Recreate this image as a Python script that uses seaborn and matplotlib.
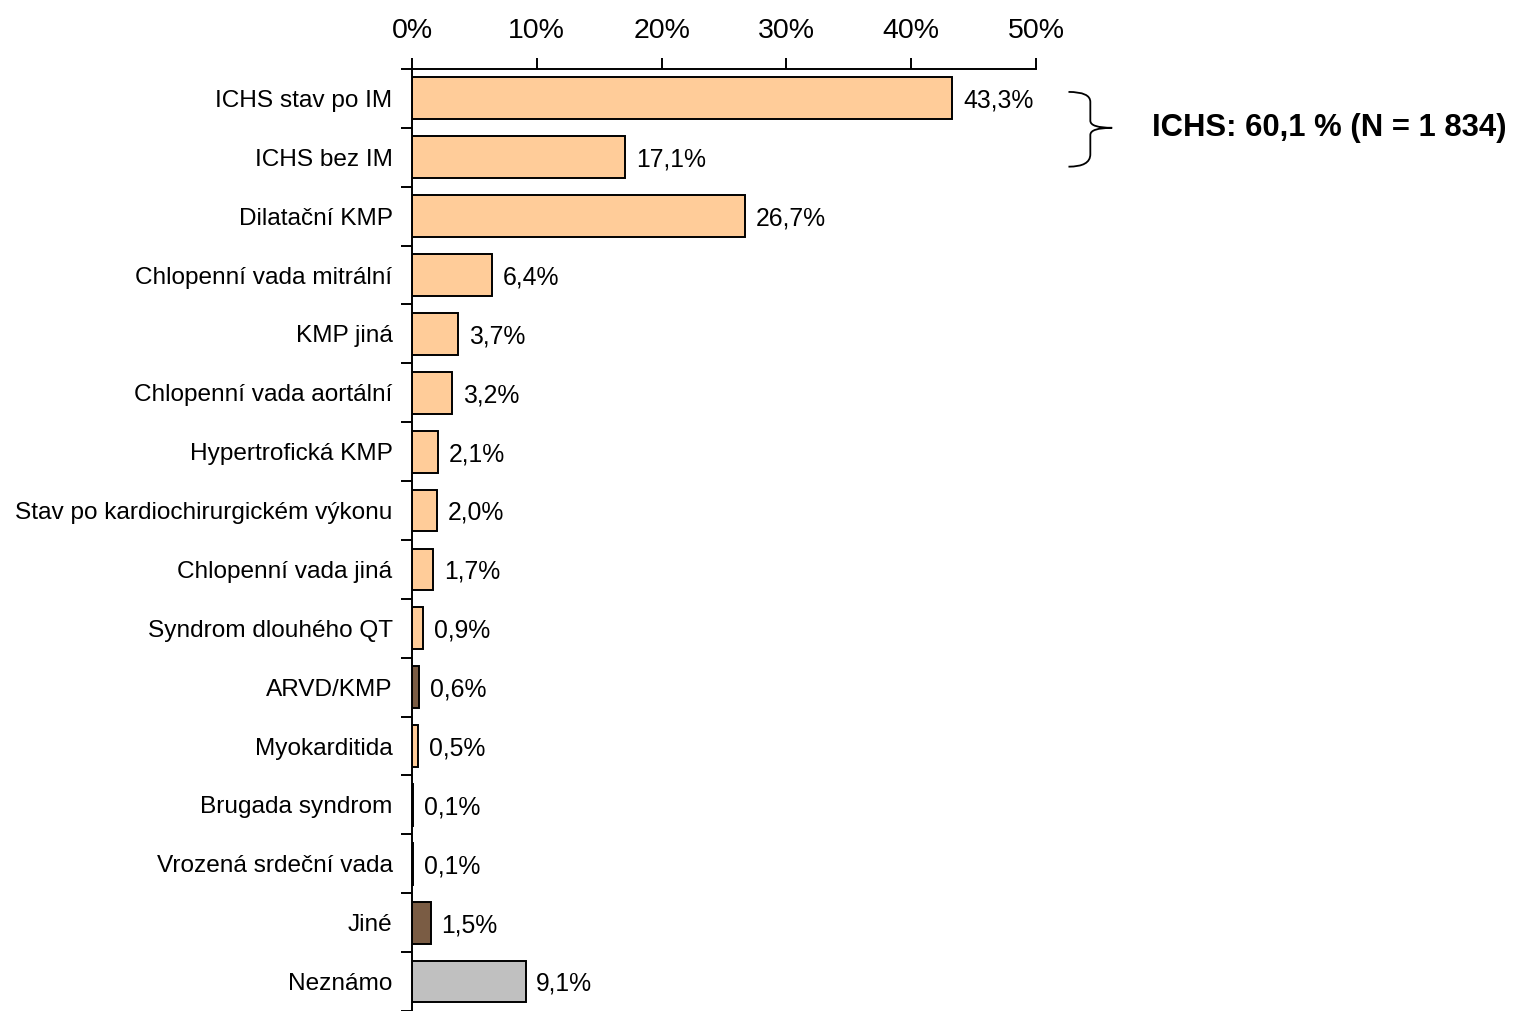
import matplotlib
matplotlib.use("Agg")
import matplotlib.pyplot as plt
import matplotlib.patches as mpatches
from matplotlib.path import Path
import seaborn as sns
import pandas as pd

categories = [
    "ICHS stav po IM", "ICHS bez IM", "Dilatační KMP", "Chlopenní vada mitrální",
    "KMP jiná", "Chlopenní vada aortální", "Hypertrofická KMP",
    "Stav po kardiochirurgickém výkonu", "Chlopenní vada jiná", "Syndrom dlouhého QT",
    "ARVD/KMP", "Myokarditida", "Brugada syndrom", "Vrozená srdeční vada",
    "Jiné", "Neznámo",
]
values = [43.3, 17.1, 26.7, 6.4, 3.7, 3.2, 2.1, 2.0, 1.7, 0.9, 0.6, 0.5, 0.1, 0.1, 1.5, 9.1]
value_labels = ["43,3%", "17,1%", "26,7%", "6,4%", "3,7%", "3,2%", "2,1%", "2,0%",
                "1,7%", "0,9%", "0,6%", "0,5%", "0,1%", "0,1%", "1,5%", "9,1%"]
x_ticks = [0, 10, 20, 30, 40, 50]
group_note = "ICHS: 60,1 % (N = 1 834)"

PEACH = "#FFCC99"
BROWN = "#7A5C44"
GREY = "#C0C0C0"
colors = [PEACH] * 10 + [BROWN, PEACH, PEACH, PEACH, BROWN, GREY]

df = pd.DataFrame({"category": categories, "value": values})

sns.set_style("white", rc={"text.color": "black", "xtick.color": "black",
                           "ytick.color": "black", "axes.labelcolor": "black"})
plt.rcParams['font.family'] = ['Liberation Sans', 'DejaVu Sans']

fig = plt.figure(figsize=(15.18, 10.11), dpi=100)
ax = fig.add_axes([0.2714, 0.0, 0.4111, 0.9318])

sns.barplot(data=df, x="value", y="category", hue="category", palette=colors,
            legend=False, orient="h", width=0.71, edgecolor="black", linewidth=1.4,
            saturation=1, ax=ax)

# value labels to the right of each bar
for i, (v, lab) in enumerate(zip(values, value_labels)):
    ax.text(v + 0.85, i + 0.04, lab, va="center", ha="left", fontsize=17.8, color="black")

ax.set_xlim(0, 50)
ax.set_ylim(15.5, -0.5)
ax.set_xticks(x_ticks)
ax.set_xticklabels([f"{t}%" for t in x_ticks], fontsize=20.5)
ax.xaxis.tick_top()
ax.set_xlabel("")
ax.set_ylabel("")

ax.tick_params(axis="x", which="major", direction="out", length=8, width=1.4,
               pad=10, colors="black", top=True, bottom=False)
ax.tick_params(axis="y", which="major", length=0, pad=14, labelsize=17.6,
               labelcolor="black")
ax.set_yticks([i - 0.5 for i in range(len(categories) + 1)], minor=True)
ax.tick_params(axis="y", which="minor", direction="out", length=8, width=1.4, left=True)

for side in ["right", "bottom"]:
    ax.spines[side].set_visible(False)
for side in ["top", "left"]:
    ax.spines[side].set_color("black")
    ax.spines[side].set_linewidth(1.4)

# curly brace grouping the two ICHS rows
verts = [(52.6, -0.11), (54.35, -0.11), (54.35, 0.06),
         (54.35, 0.38), (54.35, 0.5), (56.1, 0.5),
         (54.35, 0.5), (54.35, 0.62),
         (54.35, 0.95), (54.35, 1.16), (52.6, 1.16)]
codes = [Path.MOVETO, Path.CURVE3, Path.CURVE3,
         Path.LINETO, Path.CURVE3, Path.CURVE3,
         Path.CURVE3, Path.CURVE3,
         Path.LINETO, Path.CURVE3, Path.CURVE3]
brace = mpatches.PathPatch(Path(verts, codes), facecolor="none", edgecolor="black",
                           linewidth=1.3, clip_on=False)
ax.add_patch(brace)
ax.text(59.3, 0.5, group_note, va="center", ha="left", fontsize=22.3,
        fontweight="bold", color="black")

fig.savefig("out.png", dpi=100)
